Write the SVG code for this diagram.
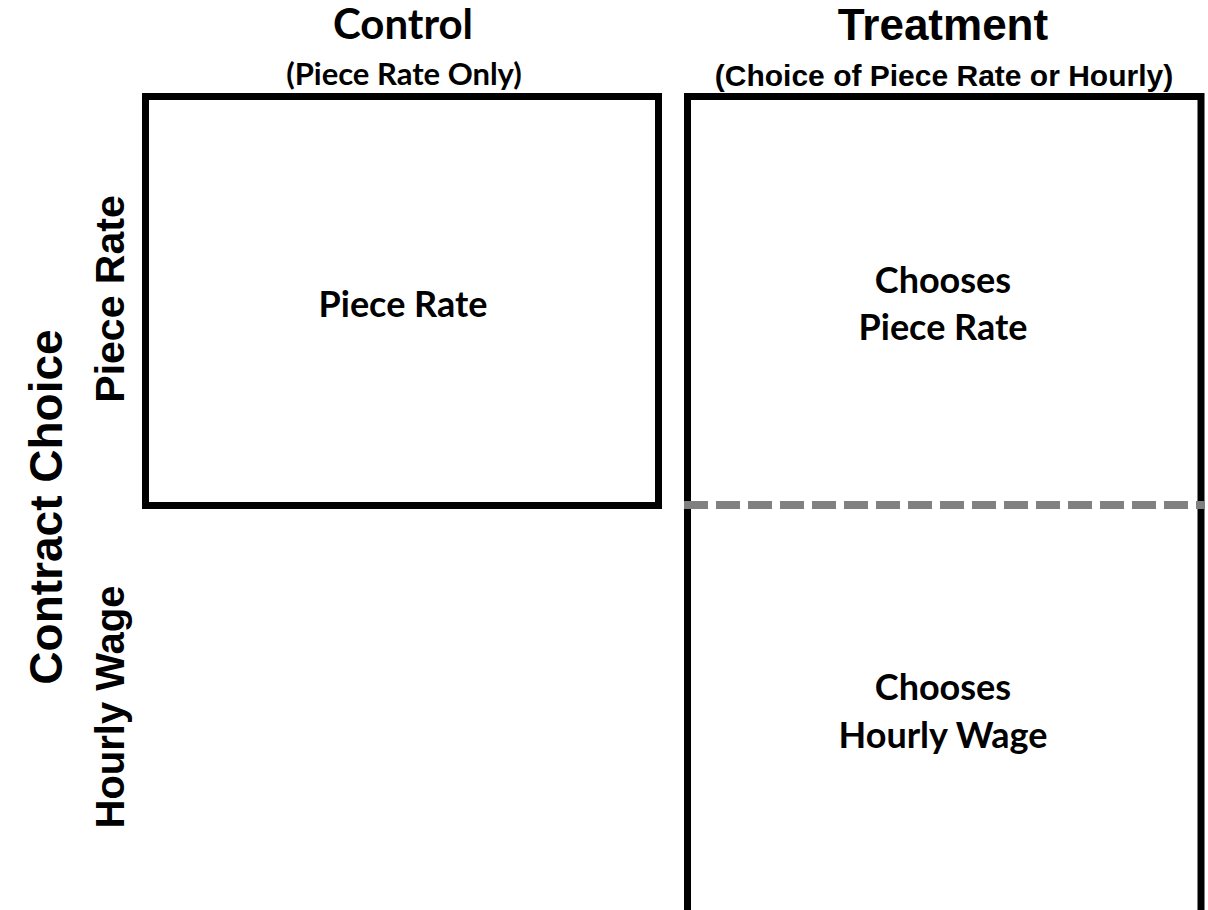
<svg xmlns="http://www.w3.org/2000/svg" width="1208" height="910" viewBox="0 0 1208 910">
<style>
.c{font-family:Lato,"Open Sans",sans-serif;font-weight:bold;fill:#000;text-anchor:middle}
.a{font-family:"Liberation Sans",Arial,sans-serif;font-weight:bold;fill:#000;text-anchor:middle}
.box{fill:none;stroke:#000;stroke-width:7}
</style>
<rect width="1208" height="910" fill="#fff"/>
<g id="headers">
<text class="c" x="403" y="39" font-size="42">Control</text>
<text class="c" x="404" y="85" font-size="31">(Piece Rate Only)</text>
<text class="a" x="943" y="40" font-size="44">Treatment</text>
<text class="a" x="944" y="86" font-size="30">(Choice of Piece Rate or Hourly)</text>
</g>
<g id="axis">
<text class="a" font-size="46" transform="translate(62,507) rotate(-90)">Contract Choice</text>
<text class="a" font-size="41" transform="translate(124,299) rotate(-90)">Piece Rate</text>
<text class="a" font-size="40" transform="translate(124,707) rotate(-90)">Hourly Wage</text>
</g>
<g id="control">
<rect class="box" x="145.5" y="96.5" width="513" height="409"/>
<text class="c" x="403" y="317" font-size="36">Piece Rate</text>
</g>
<g id="treatment">
<path class="box" d="M687.5 915 V96.5 H1201 V915"/>
<text class="c" x="943" y="293" font-size="36">Chooses</text>
<text class="c" x="943" y="340" font-size="36">Piece Rate</text>
<text class="c" x="943" y="700" font-size="36">Chooses</text>
<text class="c" x="943" y="748" font-size="36">Hourly Wage</text>
</g>
<g id="connectors">
<line x1="684" y1="505" x2="1204" y2="505" stroke="#808080" stroke-width="8" stroke-dasharray="24 8"/>
</g>
</svg>
